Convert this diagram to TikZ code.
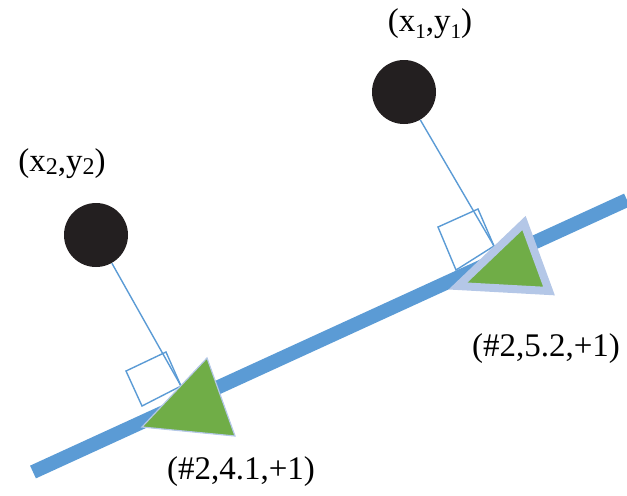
\documentclass[tikz,border=0pt]{standalone}
\usepackage{fontspec}
\setmainfont{Liberation Serif}
\definecolor{lineblue}{HTML}{5B9BD5}
\definecolor{paleblue}{HTML}{B4C7E7}
\definecolor{leafgreen}{HTML}{70AD47}
\definecolor{dotblack}{HTML}{231F20}
\tikzset{
    dot/.style={circle,fill=dotblack,minimum size=32pt,inner sep=0pt},
    perp/.style={lineblue,line width=0.7pt},
    track/.style={lineblue,line width=7pt},
    marker/.style={fill=leafgreen,draw=paleblue,line join=miter},
    lbl/.style={font=\fontsize{16.5}{18}\selectfont,inner sep=0pt}
}
\begin{document}
\begin{tikzpicture}[x=0.5pt,y=-0.5pt]
        \useasboundingbox (0,0) rectangle (627,495);

        \node[lbl] (t1) at (430,24) {(x\raisebox{-0.45ex}{\fontsize{10.5}{12}\selectfont 1},y\raisebox{-0.45ex}{\fontsize{10.5}{12}\selectfont 1})};
        \node[lbl] (t2) at (62,164) {(x\raisebox{-0.2ex}{\fontsize{12}{13}\selectfont 2},y\raisebox{-0.2ex}{\fontsize{12}{13}\selectfont 2})};

        \node[dot] (p1) at (404,92) {};
        \node[dot] (p2) at (96,235) {};
        \coordinate (f1) at (494,246);
        \coordinate (f2) at (181,386);

        % perpendiculars with right-angle marks
        \draw[perp] (p1) -- (f1);
        \draw[perp] (p2) -- (f2);
        \draw[perp] (438,227) -- (478,209) -- (494,246) -- (456,270) -- cycle;
        \draw[perp] (126,371) -- (166,352) -- (181,386) -- (142,406) -- cycle;

        \coordinate (a) at (33,472);
        \coordinate (b) at (627,200);
        \draw[track] (a) -- (b);

        \filldraw[marker,line width=4pt] (524,223) -- (549,291) -- (458,286) -- cycle;
        \filldraw[marker,line width=0.6pt] (207,358) -- (235,436) -- (142,427) -- cycle;

        \node[lbl] (r1) at (546,349) {(\#2,5.2,+1)};
        \node[lbl] (r2) at (241,472) {(\#2,4.1,+1)};
    \end{tikzpicture}
\end{document}
